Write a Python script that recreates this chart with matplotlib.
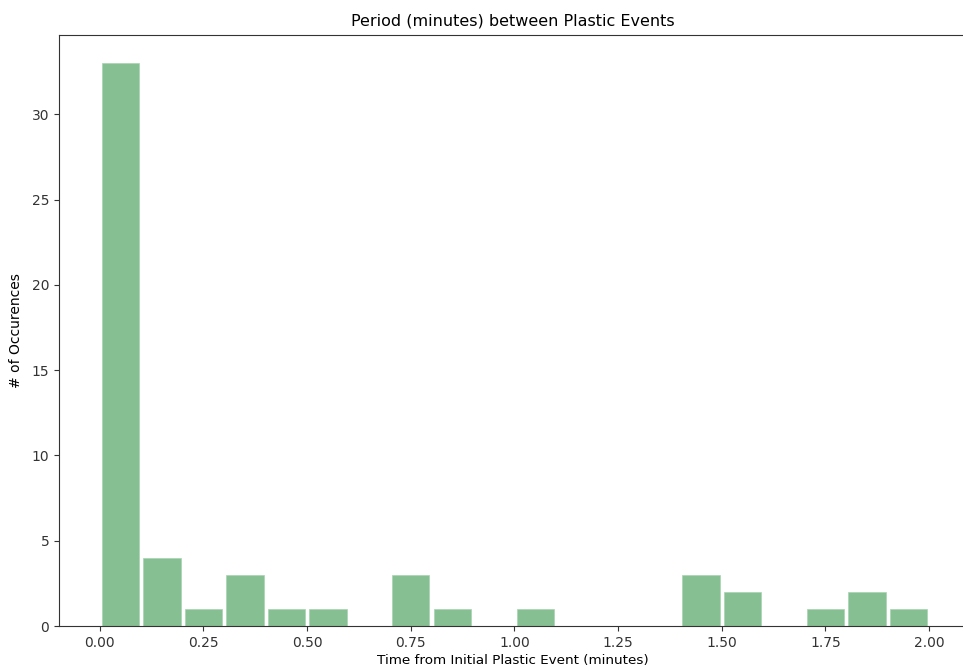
import numpy as np
import matplotlib
matplotlib.use("agg")
import matplotlib.pyplot as plt

# histogram of time between plastic events (minutes), 20 bins over 0..2
bin_edges = np.linspace(0.0, 2.0, 21)
counts = [33, 4, 1, 3, 1, 1, 0, 3, 1, 0, 1, 0, 0, 0, 3, 2, 0, 1, 2, 1]
xticks = [0.00, 0.25, 0.50, 0.75, 1.00, 1.25, 1.50, 1.75, 2.00]
yticks = [0, 5, 10, 15, 20, 25, 30]

centers = (bin_edges[:-1] + bin_edges[1:]) / 2

fig = plt.figure(figsize=(9.63, 6.68), dpi=100)
ax = fig.add_axes([59 / 963, 42 / 668, (967 - 59) / 963, (626 - 35) / 668])

ax.hist(centers, bins=bin_edges, weights=counts, rwidth=0.9,
        color="#86bf91", edgecolor="#a9d3b2", linewidth=0.5, zorder=2)

ax.set_xlim(-0.0985, 2.0915)
ax.set_ylim(0, 34.65)
ax.set_xticks(xticks)
ax.set_xticklabels([f"{t:.2f}" for t in xticks])
ax.set_yticks(yticks)
ax.tick_params(labelsize=10, colors="#333333")
for sp in ax.spines.values():
    sp.set_color("#333333")
ax.spines["right"].set_visible(False)

ax.set_title("Period (minutes) between Plastic Events", fontsize=11.5, pad=7)
ax.set_xlabel("Time from Initial Plastic Event (minutes)", fontsize=9.7, labelpad=3)
ax.set_ylabel("# of Occurences", fontsize=10, labelpad=6)

fig.savefig("out.png", dpi=100)
plt.close()
